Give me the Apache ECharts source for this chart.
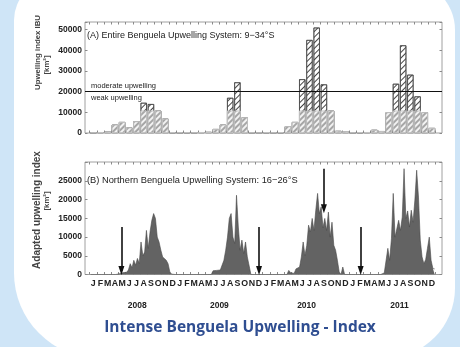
<!DOCTYPE html>
<html><head><meta charset="utf-8">
<script src="https://cdn.jsdelivr.net/npm/echarts@6/dist/echarts.min.js"></script>
<style>html,body{margin:0;padding:0;background:#cfe5f7}#c{width:460px;height:347px}</style>
</head><body><div id="c"></div>
<script>
// ---------- data ----------
const monthLetters = ['J','F','M','A','M','J','J','A','S','O','N','D'];
const years = [2008, 2009, 2010, 2011];
const yearLabelMonths = [6.1, 17.5, 29.6, 42.5];
const ibuTicksMax = 50000;
const nbusTicksMax = 25000;

// (A) monthly IBU [km2], Jan 2008 .. Dec 2011
const ibuTotal = [
  200, 400, 700, 4000, 5300, 2600, 5600, 14600, 14000, 10800, 6900, 300,
  200, 300, 200, 400, 500, 1900, 4000, 17000, 24500, 7500, 200, 100,
  300, 200, 300, 3200, 5300, 26000, 45000, 51000, 23500, 10800, 1000, 800,
  200, 300, 400, 1500, 900, 10000, 23800, 42400, 28200, 17700, 10000, 2400
];
// lower (weak-upwelling) part of each bar
const ibuWeakPart = [
  200, 400, 700, 4000, 5300, 2600, 5600, 10800, 10800, 10800, 6900, 300,
  200, 300, 200, 400, 500, 1900, 4000, 10800, 10800, 7500, 200, 100,
  300, 200, 300, 3200, 5300, 10800, 10800, 10800, 10800, 10800, 1000, 800,
  200, 300, 400, 1500, 900, 10000, 10800, 10800, 10800, 10800, 10000, 2400
];
const thresholdModerate = 20000;

// (B) adapted upwelling index, quarter-month samples per year
const nbus2008 = [0,0,0,0, 0,0,0,0, 0,0,0,0, 0,0,0,0, 200,300,500,900, 600,1200,2900,1800,
  3800,2500,4300,3000, 8700,5000,6000,11800, 7000,11400,14500,16300, 15000,10000,8700,6500,
  4700,5000,3800,2900, 700,100,0,0];
const nbus2009 = [0,0,0,0, 0,0,0,0, 0,0,0,0, 0,0,0,0, 0,0,0,0, 1000,1300,1100,1500,
  1200,1400,3800,6500, 10000,15000,16300,10000, 8300,21200,12700,6500, 9200,5600,8700,4700,
  4200,0,0,0, 0,0,0,0];
const nbus2010 = [0,0,0,0, 0,0,0,0, 0,0,0,0, 0,0,1100,500, 0,300,1500,1800, 2000,4700,8700,5100,
  7800,13200,11400,15000, 11800,17200,21700,16300, 18100,12500,15000,11800, 16700,10000,14000,7800,
  6500,3800,700,0, 2000,0,0,0];
const nbus2011 = [0,0,0,0, 0,0,0,0, 0,0,0,0, 0,0,0,0, 0,0,300,400, 500,7000,3800,9600,
  21700,10000,10500,14500, 11800,15400,28300,15000, 17000,12700,17200,14000, 19900,27900,20700,9200,
  4700,2900,4000,7000, 10000,3800,1600,1500];
const nbusYears = [nbus2008, nbus2009, nbus2010, nbus2011];
// arrows: [month index, start value, tip value]
const arrows = [[3.9, 12700, 1100], [23.0, 12700, 1100], [32.0, 28300, 17600], [37.1, 12700, 1100]];

// ---------- build ----------
const monthCenters = ibuTotal.map((v, i) => i);
const monthBounds = [];
for (let i = 0; i <= ibuTotal.length; i++) monthBounds.push(i - 0.5);
const barTotal = ibuTotal.map((v, i) => [i, v]);
const barWeak = ibuWeakPart.map((v, i) => [i, v]);
const nbusData = [];
nbusYears.forEach((arr, k) => arr.forEach((v, q) => nbusData.push([k * 12 + (q + 0.5) / 4 - 0.5, v])));

const FF = '"Liberation Sans", Arial, sans-serif';
const XMIN = -1.15, XMAX = 48.39;
const tickStyle = { show: true, inside: true, length: 2.5, lineStyle: { color: '#8a8a8a', width: 1 } };
const noLine = { show: false, onZero: false };

const chart = echarts.init(document.getElementById('c'), null, { renderer: 'canvas' });
chart.setOption({
  backgroundColor: '#cfe5f7',
  animation: false,
  graphic: [
    { type: 'rect', z: -100, shape: { x: 14, y: -20, width: 441, height: 378, r: [40, 50, 70, 85] }, style: { fill: '#ffffff' } },
    { type: 'text', x: 37.5, y: 52.5, rotation: Math.PI / 2, style: { text: 'Upwelling index IBU', font: 'bold 7.8px ' + FF, fill: '#444', align: 'center', verticalAlign: 'middle' } },
    { type: 'text', x: 46.5, y: 65, rotation: Math.PI / 2, style: { text: '[km²]', font: 'bold 7.8px ' + FF, fill: '#444', align: 'center', verticalAlign: 'middle' } },
    { type: 'text', x: 37, y: 210, rotation: Math.PI / 2, style: { text: 'Adapted upwelling index', font: 'bold 10px ' + FF, fill: '#444', align: 'center', verticalAlign: 'middle' } },
    { type: 'text', x: 46.5, y: 201, rotation: Math.PI / 2, style: { text: '[km²]', font: 'bold 7.8px ' + FF, fill: '#444', align: 'center', verticalAlign: 'middle' } },
    { type: 'text', x: 240, y: 328, style: { text: 'Intense Benguela Upwelling - Index', font: 'bold 15.5px "Open Sans", Lato, sans-serif', fill: '#2f4e91', align: 'center', verticalAlign: 'middle' } }
  ],
  title: [
    { text: '(A) Entire Benguela Upwelling System: 9−34°S', left: 87, top: 31, padding: 0, textStyle: { fontSize: 9, fontWeight: 'normal', color: '#222', fontFamily: FF } },
    { text: '(B) Northern Benguela Upwelling System: 16−26°S', left: 87, top: 175.5, padding: 0, textStyle: { fontSize: 9.3, fontWeight: 'normal', color: '#222', fontFamily: FF } }
  ],
  grid: [
    { left: 85, right: 18, top: 22, height: 111, show: true, borderColor: '#a0a0a0', borderWidth: 1, backgroundColor: 'transparent' },
    { left: 85, right: 18, top: 162, height: 112.5, show: true, borderColor: '#a0a0a0', borderWidth: 1, backgroundColor: 'transparent' }
  ],
  xAxis: [
    { gridIndex: 0, type: 'value', min: XMIN, max: XMAX, position: 'bottom', axisLine: noLine, splitLine: { show: false }, axisLabel: { show: false }, axisTick: Object.assign({ customValues: monthBounds }, tickStyle) },
    { gridIndex: 0, type: 'value', min: XMIN, max: XMAX, position: 'top', axisLine: noLine, splitLine: { show: false }, axisLabel: { show: false }, axisTick: Object.assign({ customValues: monthBounds }, tickStyle) },
    { gridIndex: 1, type: 'value', min: XMIN, max: XMAX, position: 'bottom', axisLine: noLine, splitLine: { show: false },
      axisTick: Object.assign({ customValues: monthBounds }, tickStyle),
      axisLabel: { customValues: monthCenters, margin: 5, fontSize: 8.8, fontWeight: 'bold', color: '#222', fontFamily: FF, formatter: v => monthLetters[Math.round(v) % 12] } },
    { gridIndex: 1, type: 'value', min: XMIN, max: XMAX, position: 'top', axisLine: noLine, splitLine: { show: false }, axisLabel: { show: false }, axisTick: Object.assign({ customValues: monthBounds }, tickStyle) },
    { gridIndex: 1, type: 'value', min: XMIN, max: XMAX, position: 'bottom', offset: 22, axisLine: noLine, splitLine: { show: false }, axisTick: { show: false },
      axisLabel: { customValues: yearLabelMonths, margin: 5, fontSize: 8.5, fontWeight: 'bold', color: '#222', fontFamily: FF, formatter: v => String(years[Math.floor((v + 0.5) / 12)]) } }
  ],
  yAxis: [
    { gridIndex: 0, type: 'value', min: 0, max: 53700, interval: 10000, axisLine: noLine, splitLine: { show: false }, axisTick: tickStyle,
      axisLabel: { margin: 3, fontSize: 8.5, fontWeight: 'bold', color: '#222', fontFamily: FF, formatter: v => (v <= ibuTicksMax ? String(v) : '') } },
    { gridIndex: 0, type: 'value', position: 'right', min: 0, max: 53700, interval: 10000, axisLine: noLine, splitLine: { show: false }, axisTick: tickStyle, axisLabel: { show: false } },
    { gridIndex: 1, type: 'value', min: 0, max: 30100, interval: 5000, axisLine: noLine, splitLine: { show: false }, axisTick: tickStyle,
      axisLabel: { margin: 3, fontSize: 8.5, fontWeight: 'bold', color: '#222', fontFamily: FF, formatter: v => (v <= nbusTicksMax ? String(v) : '') } },
    { gridIndex: 1, type: 'value', position: 'right', min: 0, max: 30100, interval: 5000, axisLine: noLine, splitLine: { show: false }, axisTick: tickStyle, axisLabel: { show: false } }
  ],
  series: [
    { type: 'bar', xAxisIndex: 0, yAxisIndex: 0, data: barTotal, barWidth: 6.3, barGap: '-100%', silent: true,
      itemStyle: { color: '#ffffff', borderColor: '#444', borderWidth: 0.7,
        decal: { symbol: 'rect', symbolSize: 1, dashArrayX: [1, 0], dashArrayY: [0.8, 2.6], rotation: -Math.PI / 4, color: '#444' } },
      markLine: { silent: true, symbol: 'none', lineStyle: { color: '#111', width: 1.2, type: 'solid' },
        data: [
          { yAxis: thresholdModerate, label: { show: true, formatter: 'moderate upwelling', position: 'insideStartTop', fontSize: 7.5, color: '#222', fontFamily: FF, distance: [6, 2] } },
          { yAxis: thresholdModerate, label: { show: true, formatter: 'weak upwelling', position: 'insideStartBottom', fontSize: 7.5, color: '#222', fontFamily: FF, distance: [6, 2] } }
        ] } },
    { type: 'bar', xAxisIndex: 0, yAxisIndex: 0, data: barWeak, barWidth: 6.3, barGap: '-100%', silent: true,
      itemStyle: { color: '#f2f2f2', borderColor: '#c8c8c8', borderWidth: 0.6,
        decal: { symbol: 'rect', symbolSize: 1, dashArrayX: [1, 0], dashArrayY: [1.3, 1.5], rotation: -Math.PI / 4, color: '#a6a6a6' } } },
    { type: 'line', xAxisIndex: 2, yAxisIndex: 2, data: nbusData, showSymbol: false, silent: true,
      lineStyle: { color: '#484848', width: 0.6 }, areaStyle: { color: '#636363', opacity: 1 },
      markLine: { silent: true, symbol: ['none', 'triangle'], symbolSize: [6, 9], lineStyle: { color: '#111', width: 1.6, type: 'solid' }, label: { show: false },
        data: arrows.map(a => [{ coord: [a[0], a[1]] }, { coord: [a[0], a[2]] }]) } }
  ]
});
</script></body></html>
